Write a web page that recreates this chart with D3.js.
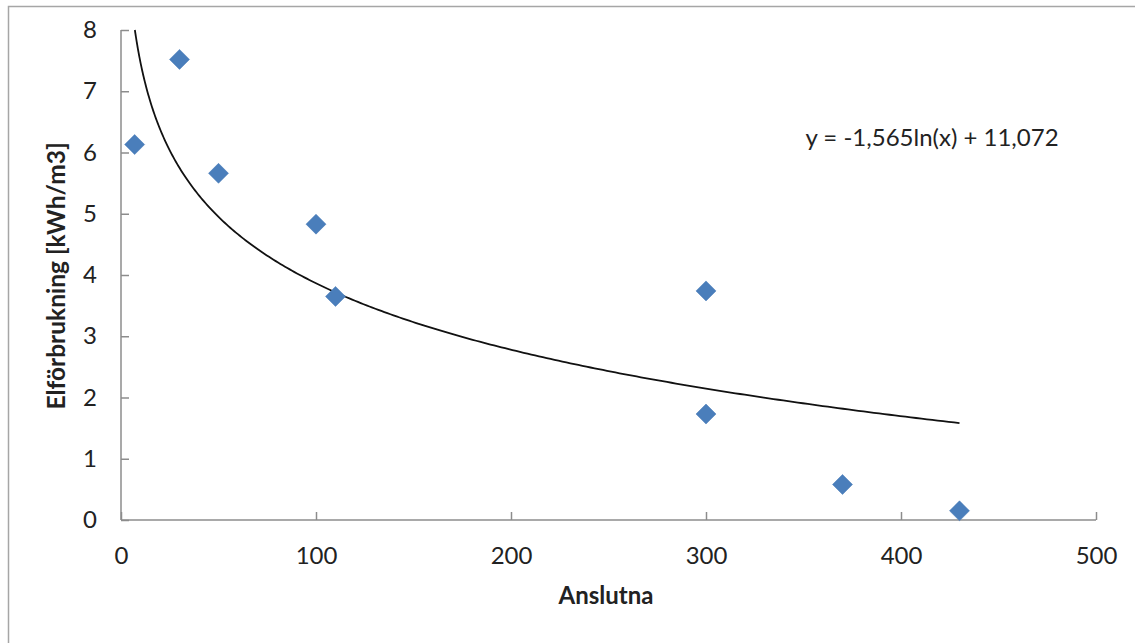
<!DOCTYPE html>
<html>
<head>
<meta charset="utf-8">
<script src="https://cdn.jsdelivr.net/npm/d3@7"></script>
<style>
  body { margin: 0; background: #fff; }
  svg text { font-family: Lato, "Open Sans", sans-serif; fill: #222; }
  .axis path, .axis line { stroke: #8c8c8c; stroke-width: 1.5; }
</style>
</head>
<body>
<svg id="svg" width="1135" height="643"></svg>
<script>
// data
const anslutna = [7, 30, 50, 100, 110, 300, 300, 370, 430]
const elforbrukning = [6.13, 7.52, 5.66, 4.83, 3.65, 3.74, 1.73, 0.58, 0.15]
const xTicks = [0, 100, 200, 300, 400, 500]
const yTicks = [0, 1, 2, 3, 4, 5, 6, 7, 8]
const trendA = -1.565
const trendB = 11.072
const trendLabel = 'y = -1,565ln(x) + 11,072'

const LEFT = 121
const RIGHT = 1096
const TOP = 30
const BOTTOM = 520

const svg = d3.select('svg')

// outer chart border (runs off right and bottom)
svg.append('rect')
  .attr('x', 8.5).attr('y', 6.5)
  .attr('width', 1140).attr('height', 660)
  .attr('fill', 'none')
  .attr('stroke', '#a6a6a6')
  .attr('stroke-width', 1.5)

const x = d3.scaleLinear().domain([0, 500]).range([LEFT, RIGHT])
const y = d3.scaleLinear().domain([0, 8]).range([BOTTOM, TOP])

// x axis, ticks pointing up into the plot
const gx = svg.append('g')
  .attr('class', 'axis')
  .attr('transform', 'translate(0,' + BOTTOM + ')')
  .call(d3.axisBottom(x).tickValues(xTicks).tickSize(-8).tickPadding(27).tickSizeOuter(0))
gx.selectAll('text').style('font-size', '24px').attr('dy', '0.71em')
gx.select('.domain').attr('d', 'M' + LEFT + ',0H' + RIGHT)

// y axis, ticks pointing right into the plot
const gy = svg.append('g')
  .attr('class', 'axis')
  .attr('transform', 'translate(' + LEFT + ',0)')
  .call(d3.axisLeft(y).tickValues(yTicks).tickSize(-8).tickPadding(24).tickSizeOuter(0))
gy.selectAll('text').style('font-size', '24px')
gy.select('.domain').attr('d', 'M0,' + TOP + 'V' + BOTTOM)

// logarithmic trend line, clipped at the top of the plot
const xStart = Math.exp((8 - trendB) / trendA)
const trendPts = d3.range(0, 301).map(i => {
  const xv = xStart + (430 - xStart) * Math.pow(i / 300, 2)
  return [xv, trendA * Math.log(xv) + trendB]
})
svg.append('path')
  .datum(trendPts)
  .attr('fill', 'none')
  .attr('stroke', '#111')
  .attr('stroke-width', 1.8)
  .attr('d', d3.line().x(d => x(d[0])).y(d => y(d[1])))

// diamonds
const diamond = d3.symbol().type(d3.symbolSquare).size(200)
svg.append('g')
  .selectAll('path')
  .data(anslutna.map((a, i) => [a, elforbrukning[i]]))
  .join('path')
  .attr('d', diamond)
  .attr('transform', d => 'translate(' + x(d[0]) + ',' + y(d[1]) + ') rotate(45)')
  .attr('fill', '#4a7ebb')
  .attr('stroke', '#4679b6')
  .attr('stroke-width', 0.5)

svg.append('text')
  .attr('x', 932).attr('y', 146)
  .attr('text-anchor', 'middle')
  .style('font-size', '24px')
  .text(trendLabel)

// axis titles
svg.append('text')
  .attr('x', 606).attr('y', 604)
  .attr('text-anchor', 'middle')
  .style('font-size', '24px')
  .style('font-weight', 'bold')
  .text('Anslutna')

svg.append('text')
  .attr('transform', 'translate(65,' + ((TOP + BOTTOM) / 2 + 1) + ') rotate(-90)')
  .attr('text-anchor', 'middle')
  .style('font-size', '24.5px')
  .style('font-weight', 'bold')
  .text('Elförbrukning [kWh/m3]')
</script>
</body>
</html>
